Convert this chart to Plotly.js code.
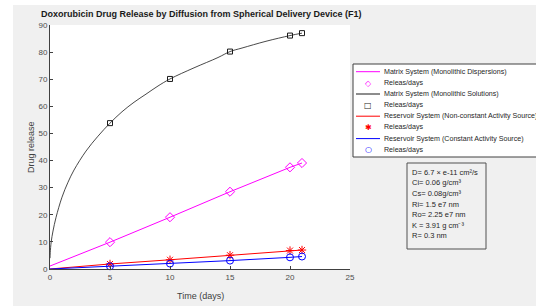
<!DOCTYPE html>
<html>
<head>
<meta charset="utf-8">
<script src="https://cdn.plot.ly/plotly-3.0.1.min.js"></script>
<style>html,body{margin:0;padding:0;background:#fff;}#chart{width:536px;height:306px;}</style>
</head>
<body>
<div id="chart"></div>
<script>
// ---- data ----
const days = [5, 10, 15, 20, 21];
const dispersionRelease = [9.9, 19.1, 28.5, 37.5, 39.1];
const solutionRelease = [53.8, 70.1, 80.2, 86.1, 87.0];
const nonConstRelease = [1.85, 3.4, 5.1, 6.8, 7.0];
const constRelease = [1.0, 2.0, 3.1, 4.3, 4.6];

const dispLineDays = [0, 5, 10, 15, 20, 21];
const dispLineRelease = [1.1, 9.9, 19.1, 28.5, 37.5, 39.1];
const solLineDays = [0, 0.02, 0.1, 0.25, 0.5, 1, 1.5, 2, 3, 4, 5, 6, 7, 8, 9, 10, 12, 14, 15, 16, 18, 20, 21];
const solLineRelease = [4, 6, 10, 14, 19, 26.5, 32, 36.5, 43.5, 49, 53.8, 58, 61.5, 64.5, 67.5, 70.1, 74.2, 78, 80.2, 81.5, 84, 86.1, 87.0];
const nonConstLineDays = [0, 5, 10, 15, 20, 21];
const nonConstLineRelease = [0, 1.85, 3.4, 5.1, 6.8, 7.0];
const constLineDays = [0, 5, 10, 15, 20, 21];
const constLineRelease = [0, 1.0, 2.0, 3.1, 4.3, 4.6];

const xTicks = [0, 5, 10, 15, 20, 25];
const yTicks = [0, 10, 20, 30, 40, 50, 60, 70, 80, 90];

const legendLabels = [
  "Matrix System (Monolithic Dispersions)", "Releas/days",
  "Matrix System (Monolithic Solutions)", "Releas/days",
  "Reservoir System (Non-constant Activity Source)", "Releas/days",
  "Reservoir System (Constant Activity Source)", "Releas/days"
];
const paramLabels = [
  "D= 6.7 × e-11 cm²/s",
  "Ci= 0.06 g/cm³",
  "Cs= 0.08g/cm³",
  "Ri= 1.5 e7 nm",
  "Ro= 2.25 e7 nm",
  "K = 3.91 g cm⁻³",
  "R= 0.3 nm"
];

// ---- layout helpers (pixel -> paper) ----
const W = 536, H = 306;
const px = x => x / W;
const py = y => 1 - y / H;
const FONT = "Liberation Sans, Arial, sans-serif";

const magenta = "#ff00ff", black = "#1a1a1a", red = "#ff0000", blue = "#0000ff";

const traces = [
  {x: dispLineDays, y: dispLineRelease, mode: "lines", line: {color: magenta, width: 1}},
  {x: days, y: dispersionRelease, mode: "markers", marker: {symbol: "diamond-open", size: 7, color: magenta, line: {width: 1, color: magenta}}},
  {x: solLineDays, y: solLineRelease, mode: "lines", line: {color: black, width: 0.8, shape: "spline"}},
  {x: days, y: solutionRelease, mode: "markers", marker: {symbol: "square-open", size: 5, color: black, line: {width: 1, color: black}}},
  {x: nonConstLineDays, y: nonConstLineRelease, mode: "lines", line: {color: red, width: 1}},
  {x: days, y: nonConstRelease, mode: "markers", marker: {symbol: "asterisk-open", size: 7, color: red, line: {width: 1, color: red}}},
  {x: constLineDays, y: constLineRelease, mode: "lines", line: {color: blue, width: 1}},
  {x: days, y: constRelease, mode: "markers", marker: {symbol: "circle-open", size: 7, color: blue, line: {width: 1, color: blue}}}
];
traces.forEach(t => { t.showlegend = false; t.hoverinfo = "skip"; t.cliponaxis = false; });

const shapes = [
  // white screenshot margins
  {type: "rect", xref: "paper", yref: "paper", x0: 0, x1: px(13), y0: 0, y1: 1, fillcolor: "#ffffff", line: {width: 0}, layer: "below"},
  {type: "rect", xref: "paper", yref: "paper", x0: 0, x1: 1, y0: py(5), y1: 1, fillcolor: "#ffffff", line: {width: 0}, layer: "below"},
  // legend box
  {type: "rect", xref: "paper", yref: "paper", x0: px(353), x1: px(545), y0: py(157), y1: py(64), fillcolor: "#ffffff", line: {color: "#404040", width: 1}},
  // parameter box
  {type: "rect", xref: "paper", yref: "paper", x0: px(407), x1: px(486), y0: py(249), y1: py(163), fillcolor: "#f0f0f0", line: {color: "#505050", width: 1}}
];

const annotations = [];
const legendColors = [magenta, magenta, black, black, red, red, blue, blue];
const legendGlyphs = ["◇", "□", "✱", "○"];
const rowY = [71.7, 83.3, 94, 105, 116.2, 127.3, 138.6, 149.5];
legendLabels.forEach((lab, i) => {
  annotations.push({xref: "paper", yref: "paper", x: px(382), y: py(rowY[i]), xanchor: "left", yanchor: "middle",
    text: lab, showarrow: false, font: {family: FONT, size: 7.1, color: "#262626"}});
  if (i % 2 === 0) {
    shapes.push({type: "line", xref: "paper", yref: "paper", x0: px(356), x1: px(380), y0: py(rowY[i]), y1: py(rowY[i]),
      line: {color: legendColors[i], width: 1}});
  } else {
    annotations.push({xref: "paper", yref: "paper", x: px(368), y: py(rowY[i]), xanchor: "center", yanchor: "middle",
      text: legendGlyphs[(i - 1) / 2], showarrow: false, font: {family: "DejaVu Sans", size: 8, color: legendColors[i]}});
  }
});
paramLabels.forEach((lab, i) => {
  annotations.push({xref: "paper", yref: "paper", x: px(410), y: py(172.3 + i * 10.6), xanchor: "left", yanchor: "middle",
    text: lab, showarrow: false, font: {family: FONT, size: 7.5, color: "#262626"}});
});
// axis titles
annotations.push({xref: "paper", yref: "paper", x: px(200), y: py(296), xanchor: "center", yanchor: "middle",
  text: "Time (days)", showarrow: false, font: {family: FONT, size: 9, color: "#404040"}});
annotations.push({xref: "paper", yref: "paper", x: px(31), y: py(147), xanchor: "center", yanchor: "middle",
  text: "Drug release", textangle: -90, showarrow: false, font: {family: FONT, size: 9, color: "#404040"}});

const axisCommon = {
  showline: true, linecolor: "#404040", linewidth: 1, ticks: "inside", ticklen: 3, tickcolor: "#404040", tickwidth: 1,
  showgrid: false, zeroline: false, automargin: false, fixedrange: true,
  tickfont: {family: FONT, size: 8, color: "#4d4d4d"}
};

const layout = {
  width: W, height: H,
  margin: {l: 0, r: 0, t: 0, b: 0, pad: 0},
  paper_bgcolor: "#f0f0f0", plot_bgcolor: "#ffffff",
  showlegend: false,
  title: {text: "<b>Doxorubicin Drug Release by Diffusion from Spherical Delivery Device (F1)</b>",
    xref: "paper", yref: "paper", x: px(41), xanchor: "left", y: py(14), yanchor: "middle",
    font: {family: FONT, size: 9, color: "#1a1a1a"}},
  xaxis: Object.assign({}, axisCommon, {domain: [px(50), px(350)], range: [0, 25], tickvals: xTicks, ticktext: xTicks.map(String)}),
  yaxis: Object.assign({}, axisCommon, {domain: [py(269), py(25)], range: [0, 90], tickvals: yTicks, ticktext: yTicks.map(String)}),
  shapes: shapes,
  annotations: annotations
};

Plotly.newPlot("chart", traces, layout, {staticPlot: true, displayModeBar: false});
</script>
</body>
</html>
